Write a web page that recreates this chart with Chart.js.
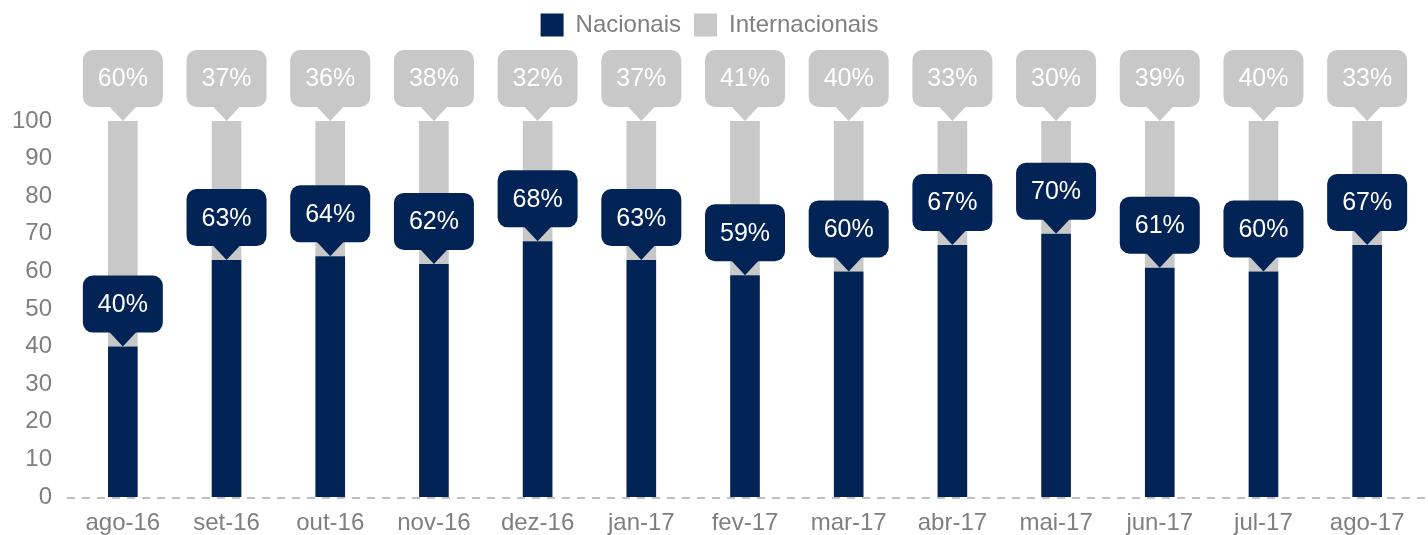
<!DOCTYPE html>
<html>
<head>
<meta charset="utf-8">
<script src="https://cdn.jsdelivr.net/npm/chart.js@4/dist/chart.umd.min.js"></script>
<style>
  html, body { margin: 0; padding: 0; background: #fff; }
  #wrap { width: 1428px; height: 535px; position: relative; }
</style>
</head>
<body>
<div id="wrap"><canvas id="myChart"></canvas></div>
<script>
const MONTHS = [
    "ago-16", "set-16", "out-16", "nov-16", "dez-16", "jan-17", "fev-17",
    "mar-17", "abr-17", "mai-17", "jun-17", "jul-17", "ago-17",
];
const NACIONAIS = [40, 63, 64, 62, 68, 63, 59, 60, 67, 70, 61, 60, 67];
const INTERNACIONAIS = [60, 37, 36, 38, 32, 37, 41, 40, 33, 30, 39, 40, 33];
const Y_TICKS = [0, 10, 20, 30, 40, 50, 60, 70, 80, 90, 100];

const NAVY = "#022356";
const LIGHT = "#c8c8c8";
const TEXT_GRAY = "#7f7f7f";
const FONT = "'Liberation Sans', Arial, sans-serif";

// room between legend and plot for the callouts
const legendSpace = {
    id: "legendSpace",
    beforeInit(chart) {
        const fit = chart.legend.fit;
        chart.legend.fit = function () {
            fit.bind(chart.legend)();
            this.height += 74;
        };
    },
};

// dashed zero line
const zeroLine = {
    id: "zeroLine",
    beforeDatasetsDraw(chart) {
        const ctx = chart.ctx;
        const y = chart.scales.y.getPixelForValue(0);
        ctx.save();
        ctx.strokeStyle = "#bfbfbf";
        ctx.lineWidth = 2;
        ctx.setLineDash([8, 7]);
        ctx.beginPath();
        ctx.moveTo(chart.chartArea.left - 4, y + 1);
        ctx.lineTo(chart.width, y + 1);
        ctx.stroke();
        ctx.restore();
    },
};

// callout boxes above each bar segment
function drawCallout(ctx, x, tipY, text, fill) {
    const w = 80, h = 57, r = 10, ph = 14, pw = 14;
    const left = x - w / 2;
    const top = tipY - ph - h;
    ctx.fillStyle = fill;
    ctx.beginPath();
    ctx.roundRect(left, top, w, h, r);
    ctx.fill();
    ctx.beginPath();
    ctx.moveTo(x - pw, top + h - 1);
    ctx.lineTo(x + pw, top + h - 1);
    ctx.lineTo(x, tipY);
    ctx.closePath();
    ctx.fill();
    ctx.fillStyle = "#ffffff";
    ctx.font = "25px " + FONT;
    ctx.textAlign = "center";
    ctx.textBaseline = "middle";
    ctx.fillText(text, x, top + h / 2 + 1);
}

const callouts = {
    id: "callouts",
    afterDatasetsDraw(chart) {
        const ctx = chart.ctx;
        ctx.save();
        [1, 0].forEach(function (di) {
            const ds = chart.data.datasets[di];
            chart.getDatasetMeta(di).data.forEach(function (bar, i) {
                drawCallout(ctx, bar.x, bar.y, ds.data[i] + "%", ds.backgroundColor);
            });
        });
        ctx.restore();
    },
};

const data1 = {
    labels: MONTHS,
    datasets: [
        {
            label: "Nacionais",
            data: NACIONAIS,
            backgroundColor: NAVY,
            barPercentage: 0.286,
            categoryPercentage: 1,
        },
        {
            label: "Internacionais",
            data: INTERNACIONAIS,
            backgroundColor: LIGHT,
            barPercentage: 0.286,
            categoryPercentage: 1,
        },
    ],
};

const config1 = {
    type: "bar",
    data: data1,
    options: {
        responsive: true,
        maintainAspectRatio: false,
        animation: false,
        layout: { padding: { left: 0, right: 9, top: 0, bottom: 0 } },
        plugins: {
            legend: {
                position: "top",
                labels: {
                    boxWidth: 23,
                    boxHeight: 23,
                    padding: 13,
                    color: TEXT_GRAY,
                    font: { size: 24, family: FONT },
                },
            },
            tooltip: { enabled: false },
        },
        scales: {
            x: {
                stacked: true,
                grid: { display: false, drawTicks: false },
                border: { display: false },
                afterFit(axis) {
                    axis.height = 38;
                },
                ticks: {
                    color: TEXT_GRAY,
                    padding: 12,
                    font: { size: 24, family: FONT },
                },
            },
            y: {
                stacked: true,
                min: 0,
                max: 100,
                afterBuildTicks(axis) {
                    axis.ticks = Y_TICKS.map(function (v) { return { value: v }; });
                },
                afterFit(axis) {
                    axis.width = 71;
                },
                grid: { display: false, drawTicks: false },
                border: { display: false },
                ticks: {
                    color: TEXT_GRAY,
                    padding: 19,
                    font: { size: 24, family: FONT },
                },
            },
        },
    },
    plugins: [legendSpace, zeroLine, callouts],
};

var ctx = document.getElementById("myChart").getContext("2d");
var myChart = new Chart(ctx, config1);
</script>
</body>
</html>
